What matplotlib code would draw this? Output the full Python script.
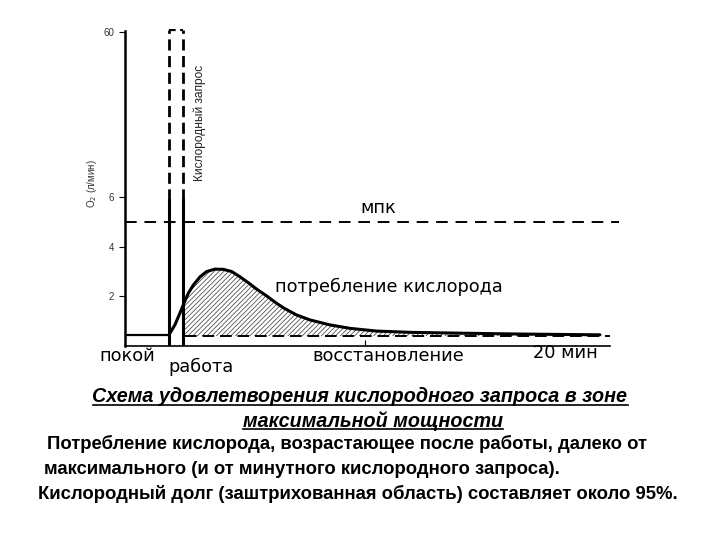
import matplotlib
matplotlib.use("Agg")
import matplotlib.pyplot as plt
from matplotlib.lines import Line2D

plt.rcParams['font.family'] = ['Liberation Sans', 'DejaVu Sans']
plt.rcParams['hatch.linewidth'] = 0.5

# время, мин и потребление O2, л/мин (ось Y разорвана: верх = 60)
t_rest = [0.0, 1.85]
rest_level = 0.45
t_work = [1.85, 2.40]
work_top = 12.66          # позиция метки "60" на разорванной оси
mpk = 5.0
baseline = 0.40

curve_t = [1.85, 2.08, 2.29, 2.46, 2.64, 2.85, 3.13, 3.40, 3.75, 4.10,
           4.45, 4.79, 5.14, 5.49, 5.90, 6.32, 6.60, 6.88, 7.15, 7.71,
           8.54, 9.38, 10.49, 11.88, 14.38, 16.58, 19.79]
curve_o2 = [0.48, 0.85, 1.33, 1.73, 2.13, 2.46, 2.79, 3.00, 3.10, 3.09,
            3.00, 2.79, 2.55, 2.29, 2.02, 1.72, 1.54, 1.39, 1.25, 1.05,
            0.85, 0.71, 0.60, 0.55, 0.51, 0.48, 0.45]

y_ticks = [2, 4, 6, work_top]
y_tick_labels = ["2", "4", "6", "60"]

fig = plt.figure(figsize=(7.2, 5.4), dpi=100)
ax = fig.add_axes([0.1736, 0.3593, 0.70, 0.5878])
ax.set_xlim(0, 21)
ax.set_ylim(0, 12.8)

for s in ["top", "right"]:
    ax.spines[s].set_visible(False)
ax.spines["left"].set_bounds(0, 12.7)
ax.spines["bottom"].set_bounds(0, 20.2)
ax.spines["left"].set_linewidth(1.8)
ax.spines["bottom"].set_linewidth(1.2)

ax.set_yticks(y_ticks)
ax.set_yticklabels(y_tick_labels, fontsize=7, color="#333333")
ax.tick_params(axis="y", direction="out", length=4, width=0.8, pad=4)
ax.set_xticks([10])
ax.set_xticklabels([""])
ax.tick_params(axis="x", direction="in", length=4, width=0.8)

# покой
ax.plot(t_rest, [rest_level, rest_level], color="black", lw=1.6)

# работа: кислородный запрос
for x in t_work:
    ax.plot([x, x], [0, 5.9], color="black", lw=2.2)
    ax.plot([x, x], [5.9, work_top + 0.1], color="black", lw=2.0,
            linestyle=(0, (4, 2)))
ax.plot(t_work, [work_top + 0.1, work_top + 0.1], color="black", lw=1.6,
        linestyle=(0, (3, 2)))

# МПК
ax.plot([0, 20.6], [mpk, mpk], color="black", lw=1.4, linestyle=(0, (6, 4)))

# восстановление: базовый уровень
ax.plot([2.5, 20.2], [baseline, baseline], color="black", lw=1.4,
        linestyle=(0, (6, 3)))

# потребление кислорода
ax.plot(curve_t, curve_o2, color="black", lw=2.2, solid_joinstyle="round",
        solid_capstyle="round")
hx = [t for t in curve_t if t >= 2.40]
hy = [v for t, v in zip(curve_t, curve_o2) if t >= 2.40]
hx = [2.40] + hx
hy = [1.43] + hy
ax.fill_between(hx, hy, baseline, facecolor="none", edgecolor="#333333",
                hatch="///////", linewidth=0)

txt = dict(color="black", fontsize=12.8, family=["DejaVu Sans"])
ax.text(10.55, 5.55, "мпк", ha="center", va="center", **txt)
ax.text(6.25, 2.4, "потребление кислорода", ha="left", va="center", **txt)
ax.text(-1.05, -0.4, "покой", ha="left", va="center", **txt)
ax.text(1.8, -0.85, "работа", ha="left", va="center", **txt)
ax.text(7.8, -0.4, "восстановление", ha="left", va="center", **txt)
ax.text(17.0, -0.3, "20 мин", ha="left", va="center", **txt)

ax.text(3.12, 9.0, "Кислородный запрос", rotation=90, ha="center",
        va="center", fontsize=8.6, color="#222222")
ax.text(-1.38, 6.55, "O$_2$ (л/мин)", rotation=90, ha="center", va="center",
        fontsize=7, color="#333333")

# подписи
titles = [
    fig.text(360 / 720, 1 - 397 / 540,
             "Схема удовлетворения кислородного запроса в зоне",
             ha="center", va="center", fontsize=14.2, fontweight="bold",
             fontstyle="italic"),
    fig.text(373 / 720, 1 - 421 / 540, "максимальной мощности",
             ha="center", va="center", fontsize=14.2, fontweight="bold",
             fontstyle="italic"),
]
body = [
    (47, 444, "Потребление кислорода, возрастающее после работы, далеко от"),
    (44, 469, "максимального (и от минутного кислородного запроса)."),
    (38, 494, "Кислородный долг (заштрихованная область) составляет около 95%."),
]
for x, y, s in body:
    fig.text(x / 720, 1 - y / 540, s, ha="left", va="center", fontsize=13.3,
             fontweight="bold")

fig.canvas.draw()
r = fig.canvas.get_renderer()
for t in titles:
    bb = t.get_window_extent(r)
    (x0, y0), (x1, _) = fig.transFigure.inverted().transform(
        [[bb.x0, bb.y0 + 1.5], [bb.x1, bb.y1]])
    fig.add_artist(Line2D([x0, x1], [y0, y0], color="black", lw=1.2,
                          transform=fig.transFigure))

fig.savefig("out.png", dpi=100)
